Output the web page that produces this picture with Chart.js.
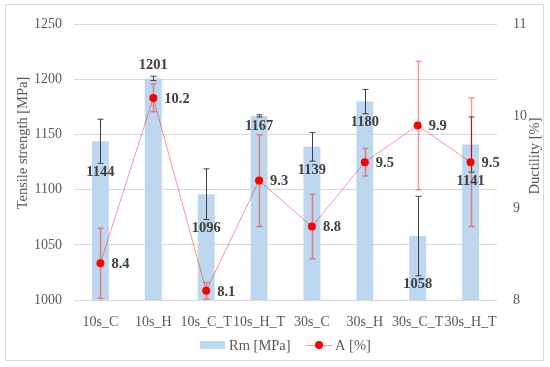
<!DOCTYPE html>
<html><head><meta charset="utf-8">
<script src="https://cdn.jsdelivr.net/npm/chart.js@4"></script>
<style>html,body{margin:0;padding:0;background:#fff}</style>
</head><body>
<canvas id="c" width="550" height="367"></canvas>
<script>
const categories = ['10s_C','10s_H','10s_C_T','10s_H_T','30s_C','30s_H','30s_C_T','30s_H_T'];
const rmValues = [1144,1201,1096,1167,1139,1180,1058,1141];
const rmErrors = [20,2,23,1,13,11,36,25];
const aValues = [8.4,10.2,8.1,9.3,8.8,9.5,9.9,9.5];
const aErrors = [0.38,0.15,0.09,0.5,0.35,0.15,0.7,0.7];
const rmTicks = [1000,1050,1100,1150,1200,1250];
const aTicks = [8,9,10,11];
const rmLabelSide = ['below','above','below','below','below','below','below','below'];

const FONT = "'Liberation Serif', 'Times New Roman', serif";
const TXT = '#595959';
const RED_SOFT = 'rgba(255,0,0,0.42)';

const extras = {
  id: 'extras',
  beforeDraw(chart) {
    const ctx = chart.ctx;
    ctx.save();
    ctx.fillStyle = '#fff';
    ctx.fillRect(0, 0, chart.width, chart.height);
    ctx.strokeStyle = '#d9d9d9';
    ctx.lineWidth = 1;
    ctx.strokeRect(5.5, 4.5, chart.width - 12, chart.height - 11);
    ctx.restore();
  },
  afterDatasetDraw(chart, args) {
    if (args.index !== 1) return;
    const ctx = chart.ctx, ys = chart.scales.y, meta = args.meta;
    ctx.save();
    ctx.strokeStyle = '#404040';
    ctx.lineWidth = 1;
    meta.data.forEach((el, i) => {
      const x = Math.round(el.x) + 0.5;
      const t = ys.getPixelForValue(rmValues[i] + rmErrors[i]);
      const b = ys.getPixelForValue(rmValues[i] - rmErrors[i]);
      ctx.beginPath();
      ctx.moveTo(x, t); ctx.lineTo(x, b);
      ctx.moveTo(x - 3, t); ctx.lineTo(x + 3, t);
      ctx.moveTo(x - 3, b); ctx.lineTo(x + 3, b);
      ctx.stroke();
    });
    ctx.restore();
  },
  beforeDatasetDraw(chart, args) {
    if (args.index !== 0) return;
    const ctx = chart.ctx, ys = chart.scales.y2, meta = args.meta;
    ctx.save();
    ctx.strokeStyle = RED_SOFT;
    ctx.lineWidth = 1.5;
    meta.data.forEach((el, i) => {
      const x = Math.round(el.x) + 0.5;
      const t = ys.getPixelForValue(aValues[i] + aErrors[i]);
      const b = ys.getPixelForValue(aValues[i] - aErrors[i]);
      ctx.beginPath();
      ctx.moveTo(x, t); ctx.lineTo(x, b);
      ctx.moveTo(x - 3, t); ctx.lineTo(x + 3, t);
      ctx.moveTo(x - 3, b); ctx.lineTo(x + 3, b);
      ctx.stroke();
    });
    ctx.restore();
  },
  afterDraw(chart) {
    const ctx = chart.ctx;
    const ys = chart.scales.y;
    ctx.save();
    // bar value labels
    ctx.font = 'bold 14.5px ' + FONT;
    ctx.fillStyle = '#404040';
    ctx.textAlign = 'center';
    ctx.textBaseline = 'middle';
    const barMeta = chart.getDatasetMeta(1);
    barMeta.data.forEach((el, i) => {
      let y;
      if (rmLabelSide[i] === 'above') y = ys.getPixelForValue(rmValues[i] + rmErrors[i]) - 11;
      else y = ys.getPixelForValue(rmValues[i] - rmErrors[i]) + 9;
      ctx.fillText(String(rmValues[i]), el.x, y);
    });
    // A value labels
    ctx.textAlign = 'left';
    const lineMeta = chart.getDatasetMeta(0);
    lineMeta.data.forEach((el, i) => {
      ctx.fillText(aValues[i].toFixed(1), el.x + 11, el.y + 1);
    });
    // axis titles
    ctx.font = '14.5px ' + FONT;
    ctx.fillStyle = TXT;
    ctx.textAlign = 'center';
    ctx.save();
    ctx.translate(23, 143);
    ctx.rotate(-Math.PI / 2);
    ctx.fillText('Tensile strength [MPa]', 0, 0);
    ctx.restore();
    ctx.save();
    ctx.translate(535, 156);
    ctx.rotate(-Math.PI / 2);
    ctx.fillText('Ductility [%]', 0, 0);
    ctx.restore();
    // legend
    const ly = 345;
    ctx.font = '14.5px ' + FONT;
    ctx.fillStyle = '#BDD7EE';
    ctx.fillRect(200, ly - 4, 25, 8);
    ctx.fillStyle = TXT;
    ctx.textAlign = 'left';
    ctx.fillText('Rm [MPa]', 229, ly + 1);
    ctx.strokeStyle = RED_SOFT;
    ctx.lineWidth = 1;
    ctx.beginPath(); ctx.moveTo(306, ly + 0.5); ctx.lineTo(332, ly + 0.5); ctx.stroke();
    ctx.fillStyle = '#FF0000';
    ctx.beginPath(); ctx.arc(319, ly, 4, 0, Math.PI * 2); ctx.fill();
    ctx.fillStyle = TXT;
    ctx.fillText('A [%]', 335, ly + 1);
    ctx.restore();
  }
};

new Chart(document.getElementById('c'), {
  type: 'bar',
  data: {
    labels: categories,
    datasets: [
      {
        type: 'line', label: 'A [%]', data: aValues, yAxisID: 'y2', order: 0,
        borderColor: RED_SOFT, borderWidth: 1, tension: 0,
        pointBackgroundColor: '#FF0000', pointBorderColor: '#FF0000',
        pointRadius: 4, pointBorderWidth: 0, fill: false
      },
      {
        type: 'bar', label: 'Rm [MPa]', data: rmValues, yAxisID: 'y', order: 1,
        backgroundColor: '#BDD7EE', borderWidth: 0,
        barPercentage: 0.32, categoryPercentage: 1.0
      }
    ]
  },
  options: {
    responsive: false, animation: false, devicePixelRatio: 1,
    layout: { padding: { top: 20, bottom: 37, left: 0, right: 0 } },
    plugins: { legend: { display: false }, tooltip: { enabled: false } },
    scales: {
      x: {
        offset: true,
        grid: { display: false, drawTicks: false },
        border: { display: false },
        ticks: { color: TXT, font: { family: FONT, size: 14 }, padding: 14, maxRotation: 0, autoSkip: false },
        afterFit(s) { s.height = 30; }
      },
      y: {
        position: 'left', min: 1000, max: 1250,
        afterBuildTicks(s) { s.ticks = rmTicks.map(v => ({ value: v })); },
        grid: { color: '#d9d9d9', drawTicks: false },
        border: { display: false },
        ticks: { color: TXT, font: { family: FONT, size: 14 }, padding: 12, callback: v => String(v) },
        afterFit(s) { s.width = 74; }
      },
      y2: {
        position: 'right', min: 8, max: 11,
        afterBuildTicks(s) { s.ticks = aTicks.map(v => ({ value: v })); },
        grid: { display: false, drawTicks: false },
        border: { display: false },
        ticks: { color: TXT, font: { family: FONT, size: 14 }, padding: 16, callback: v => String(v) },
        afterFit(s) { s.width = 53; }
      }
    }
  },
  plugins: [extras]
});
</script>
</body></html>
